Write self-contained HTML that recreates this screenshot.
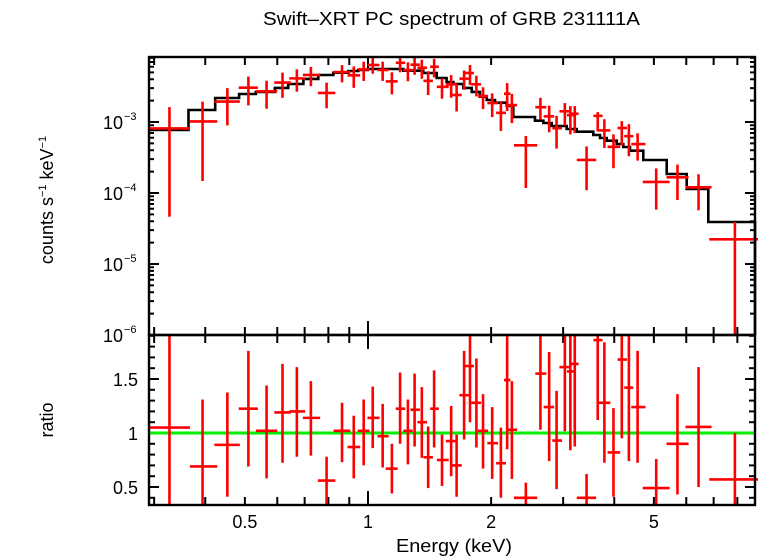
<!DOCTYPE html>
<html><head><meta charset="utf-8">
<style>
html,body{margin:0;padding:0;background:#fff;}
svg{display:block;font-family:"Liberation Sans",sans-serif;}
</style></head>
<body>
<svg id="chart" width="758" height="556" viewBox="0 0 758 556" xmlns="http://www.w3.org/2000/svg">
<text x="263" y="25" font-size="18" textLength="377" lengthAdjust="spacingAndGlyphs">Swift–XRT PC spectrum of GRB 231111A</text>
<text transform="translate(53,200) rotate(-90)" font-size="18" text-anchor="middle">counts s<tspan font-size="11" dy="-7">−1</tspan><tspan dy="7"> keV</tspan><tspan font-size="11" dy="-7">−1</tspan></text>
<text transform="translate(53,420) rotate(-90)" font-size="18" text-anchor="middle">ratio</text>
<text x="396" y="552" font-size="18" textLength="116" lengthAdjust="spacingAndGlyphs">Energy (keV)</text>
<g id="g-ticks"></g>
<g id="g-model"></g>
<g id="g-data"></g>
<g id="g-ratio"></g>
<g id="g-frame"></g>
</svg>
<script>
// model step function: bin edges (keV) and model values (counts/s/keV)
const modelEdges=[0.293,0.364,0.423,0.484,0.532,0.592,0.638,0.695,0.756,0.823,0.895,0.947,1.00,1.22,1.365,1.472,1.557,1.617,1.710,1.793,1.878,1.951,2.044,2.183,2.266,2.560,2.684,2.813,3.061,3.238,3.556,3.692,3.833,4.056,4.210,4.372,4.711,5.375,6.015,6.792,8.837];
const modelVals=[7.72e-4,1.476e-3,2.18e-3,2.48e-3,2.65e-3,3.02e-3,3.43e-3,4.04e-3,4.59e-3,4.95e-3,5.22e-3,5.40e-3,5.57e-3,5.28e-3,4.90e-3,4.17e-3,3.66e-3,3.43e-3,3.02e-3,2.65e-3,2.27e-3,2.04e-3,1.87e-3,1.68e-3,1.175e-3,1.043e-3,9.68e-4,8.79e-4,7.97e-4,7.30e-4,6.56e-4,5.95e-4,5.45e-4,4.90e-4,4.45e-4,3.94e-4,2.92e-4,1.85e-4,1.14e-4,3.91e-5];
// data bins
const eCen=[0.327,0.394,0.453,0.510,0.565,0.618,0.670,0.725,0.792,0.864,0.923,0.976,1.027,1.086,1.144,1.198,1.252,1.300,1.354,1.403,1.451,1.517,1.597,1.647,1.718,1.776,1.841,1.911,2.012,2.113,2.189,2.248,2.432,2.640,2.773,2.891,3.029,3.124,3.203,3.423,3.645,3.784,3.983,4.174,4.344,4.562,5.066,5.710,6.429,7.889];
const eLo=[0.293,0.367,0.421,0.483,0.532,0.590,0.642,0.693,0.754,0.824,0.891,0.944,0.997,1.055,1.105,1.169,1.219,1.270,1.321,1.366,1.419,1.473,1.550,1.600,1.673,1.722,1.788,1.857,1.958,2.057,2.150,2.194,2.274,2.565,2.688,2.822,2.938,3.064,3.117,3.239,3.558,3.661,3.852,4.074,4.231,4.403,4.697,5.369,5.974,6.828];
const eHi=[0.367,0.428,0.486,0.538,0.600,0.648,0.702,0.764,0.832,0.905,0.957,1.009,1.067,1.123,1.182,1.233,1.286,1.339,1.394,1.441,1.490,1.575,1.647,1.695,1.768,1.816,1.890,1.967,2.080,2.175,2.229,2.315,2.593,2.729,2.853,2.982,3.131,3.181,3.274,3.613,3.745,3.914,4.137,4.298,4.453,4.769,5.464,6.079,6.918,9.02];
const ratio=[1.05,0.69,0.89,1.225,1.02,1.19,1.20,1.14,0.56,1.02,0.87,1.02,1.14,0.97,0.67,1.225,1.02,1.215,1.10,0.775,1.225,0.75,0.925,0.70,1.35,1.62,1.28,1.02,0.906,0.72,1.49,1.03,0.40,1.55,1.24,0.93,1.61,1.57,1.64,0.40,1.86,1.28,0.82,1.68,1.42,1.24,0.49,0.90,1.056,0.57];
const ratioLo=[0.06,0.10,0.41,0.69,0.58,0.725,0.78,0.79,0.34,0.73,0.58,0.70,0.86,0.68,0.44,0.90,0.71,0.875,0.77,0.49,0.866,0.51,0.60,0.41,0.94,1.10,0.866,0.67,0.575,0.40,0.85,0.575,0.10,1.03,0.74,0.48,1.016,0.84,0.875,0.15,1.12,0.725,0.41,0.95,0.74,0.725,0.20,0.43,0.50,0.0];
const ratioHi=[2.1,1.31,1.375,1.76,1.44,1.64,1.61,1.48,0.78,1.28,1.16,1.31,1.43,1.27,0.90,1.56,1.31,1.55,1.425,1.06,1.58,0.985,1.25,0.985,1.76,2.1,1.69,1.36,1.24,1.05,2.1,1.48,0.54,2.1,1.75,1.39,2.1,2.1,2.1,0.62,2.1,1.84,1.23,2.1,2.1,1.76,0.76,1.36,1.61,1.0];
const yTickVals=[1e-3,1e-4,1e-5,1e-6];
const yTickExp=["−3","−4","−5","−6"];
const rTickVals=[0.5,1,1.5];
const rTickLabels=["0.5","1","1.5"];
const xLabelVals=[0.5,1,2,5];
const xLabelText=["0.5","1","2","5"];

const NS="http://www.w3.org/2000/svg";
const L=149,R=755,T1=57,B1=335,T2=335,B2=505;
const X=e=>368+409*Math.log10(e);
const Y=v=>122-(Math.log10(v)+3)*71;
const YR=r=>433-(r-1)*108;
const clip=(v,a,b)=>Math.max(a,Math.min(b,v));
function mk(tag,attrs,parent){const el=document.createElementNS(NS,tag);for(const k in attrs)el.setAttribute(k,attrs[k]);parent.appendChild(el);return el;}
function modelAt(e){for(let i=0;i<modelVals.length;i++){if(e>=modelEdges[i]&&e<modelEdges[i+1])return modelVals[i];}return modelVals[modelVals.length-1];}

const gm=document.getElementById('g-model');
let d='';
for(let i=0;i<modelVals.length;i++){const x0=X(modelEdges[i]),x1=X(modelEdges[i+1]),y=Y(modelVals[i]);d+=(i===0?'M':'L')+x0.toFixed(1)+','+y.toFixed(1)+'L'+x1.toFixed(1)+','+y.toFixed(1);}
d+='L'+X(modelEdges[modelEdges.length-1]).toFixed(1)+','+B1;
const mp=mk('path',{d:d,fill:'none',stroke:'#000','stroke-width':2.6},gm);



const gd=document.getElementById('g-data'), gr=document.getElementById('g-ratio');
const gl=mk('line',{x1:L,x2:R,y1:YR(1),y2:YR(1),stroke:'#00ee00','stroke-width':3},gr);


for(let i=0;i<eCen.length;i++){
  const m=modelAt(eCen[i]);
  const xc=X(eCen[i]),xa=X(eLo[i]),xb=X(eHi[i]);
  const g=mk('g',{},gd);
  
  
  const yv=clip(Y(m*ratio[i]),T1,B1);
  const ylo=ratioLo[i]>0?clip(Y(m*ratioLo[i]),T1,B1):B1;
  const yhi=clip(Y(m*ratioHi[i]),T1,B1);
  mk('line',{x1:xa,x2:xb,y1:yv,y2:yv,stroke:'#f00','stroke-width':2.6},g);
  mk('line',{x1:xc,x2:xc,y1:yhi,y2:ylo,stroke:'#f00','stroke-width':2.6},g);
  const g2=mk('g',{},gr);
  
  
  const ry=YR(ratio[i]);
  if(ry>=T2&&ry<=B2) mk('line',{x1:xa,x2:xb,y1:ry,y2:ry,stroke:'#f00','stroke-width':2.6},g2);
  mk('line',{x1:xc,x2:xc,y1:clip(YR(ratioHi[i]),T2,B2),y2:clip(YR(ratioLo[i]),T2,B2),stroke:'#f00','stroke-width':2.6},g2);
}

const gt=document.getElementById('g-ticks');
const tk=[];
for(let dec=-1;dec<=1;dec++)for(let k=1;k<10;k++){const e=k*Math.pow(10,dec);if(e>=0.29&&e<=8.85)tk.push(e);}
tk.forEach(e=>{const x=X(e);const len=(Math.abs(e-1)<1e-9)?14:8;
  [[B1,-len],[T1,len],[T2,len],[B2,-len]].forEach(([y,l])=>mk('line',{x1:x,x2:x,y1:y,y2:y+l,stroke:'#000','stroke-width':2},gt));});
xLabelVals.forEach((e,i)=>{const t=mk('text',{x:X(e),y:528,'font-size':18,'text-anchor':'middle'},gt);t.textContent=xLabelText[i];
  
  });
for(let dec=-6;dec<-2;dec++)for(let k=1;k<10;k++){const v=k*Math.pow(10,dec);const y=Y(v);if(y<T1||y>B1)continue;const len=k===1?10:5;
  mk('line',{x1:L,x2:L+len,y1:y,y2:y,stroke:'#000','stroke-width':2},gt);mk('line',{x1:R,x2:R-len,y1:y,y2:y,stroke:'#000','stroke-width':2},gt);}
yTickVals.forEach((v,i)=>{const t=mk('text',{x:123,y:Y(v)+7,'font-size':18,'text-anchor':'end'},gt);t.textContent='10';
  
  
  const s=mk('text',{x:124,y:Y(v)-2,'font-size':11},gt);s.textContent=yTickExp[i];});
for(let r=0.4;r<1.95;r+=0.1){const y=YR(r);if(y<T2||y>B2)continue;const major=Math.abs(r*2-Math.round(r*2))<1e-6;const len=major?10:6;
  mk('line',{x1:L,x2:L+len,y1:y,y2:y,stroke:'#000','stroke-width':2},gt);mk('line',{x1:R,x2:R-len,y1:y,y2:y,stroke:'#000','stroke-width':2},gt);}
rTickVals.forEach((v,i)=>{const t=mk('text',{x:138,y:YR(v)+7,'font-size':18,'text-anchor':'end'},gt);t.textContent=rTickLabels[i];
  
  });

const gf=document.getElementById('g-frame');
const f1=mk('rect',{x:L,y:T1,width:R-L,height:B1-T1,fill:'none',stroke:'#000','stroke-width':2.4},gf);


const f2=mk('rect',{x:L,y:T2,width:R-L,height:B2-T2,fill:'none',stroke:'#000','stroke-width':2.4},gf);


</script>
</body></html>
